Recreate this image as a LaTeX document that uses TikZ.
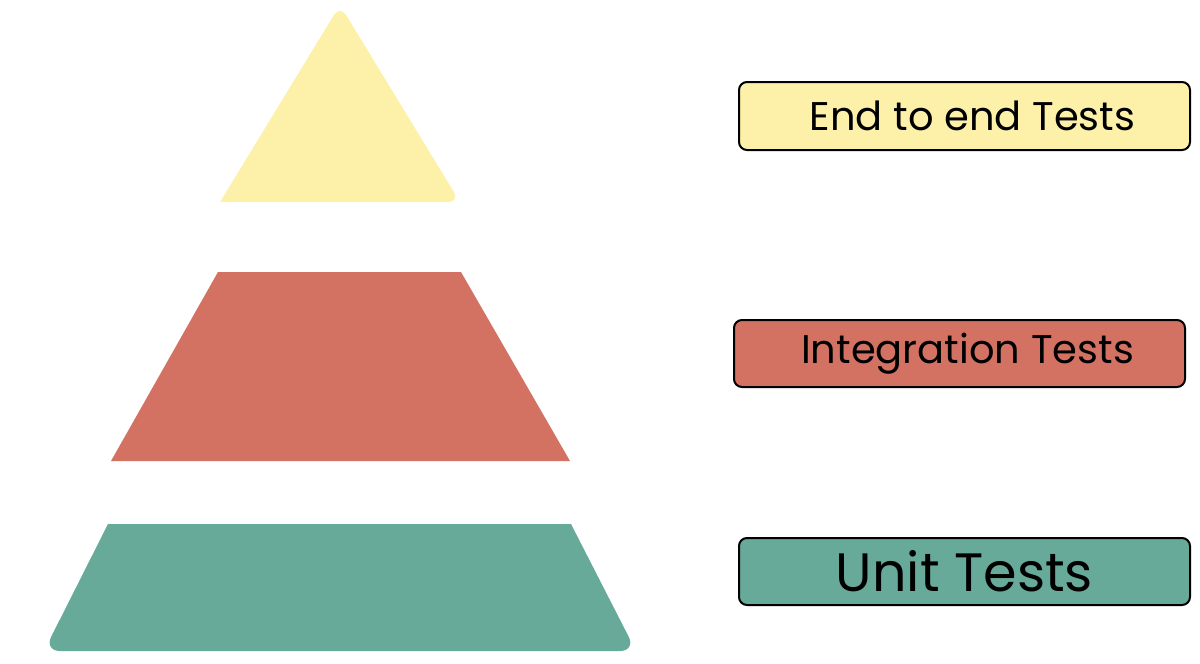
\documentclass[tikz,border=0pt]{standalone}
\usepackage{fontspec}
\setmainfont{Poppins}
\definecolor{cy}{HTML}{FDF1A9}
\definecolor{cr}{HTML}{D37263}
\definecolor{cg}{HTML}{68AA99}
\begin{document}
\begin{tikzpicture}[x=0.5pt,y=-0.5pt,
  lbl/.style={draw=black,line width=1pt,rounded corners=4pt,inner sep=0pt,font=\fontsize{20}{24}\selectfont\addfontfeature{FakeBold=0}}]
\useasboundingbox (0,0) rectangle (1200,664);
\fill[cy,rounded corners=6pt] (220,202) -- (340,5) -- (460,202) [sharp corners]-- cycle;
\fill[cr] (218,272) -- (461,272) -- (570,461) -- (111,461) -- cycle;
\fill[cg,rounded corners=8pt] (108,524) [sharp corners]-- (571,524) [rounded corners=8pt]-- (636,651) -- (44,651) [sharp corners]-- cycle;
\node[lbl,fill=cy,minimum width=225.5pt,minimum height=34pt] (e2e) at (964.5,116) {\hspace*{8pt}End to end Tests};
\node[lbl,fill=cr,minimum width=225.5pt,minimum height=33.5pt] (int) at (959.5,353.5) {\hspace*{8pt}Integration Tests};
\node[lbl,fill=cg,minimum width=225.5pt,minimum height=33.5pt,font=\fontsize{27}{30}\selectfont] (unit) at (964.5,571.5) {Unit Tests};
\end{tikzpicture}
\end{document}
